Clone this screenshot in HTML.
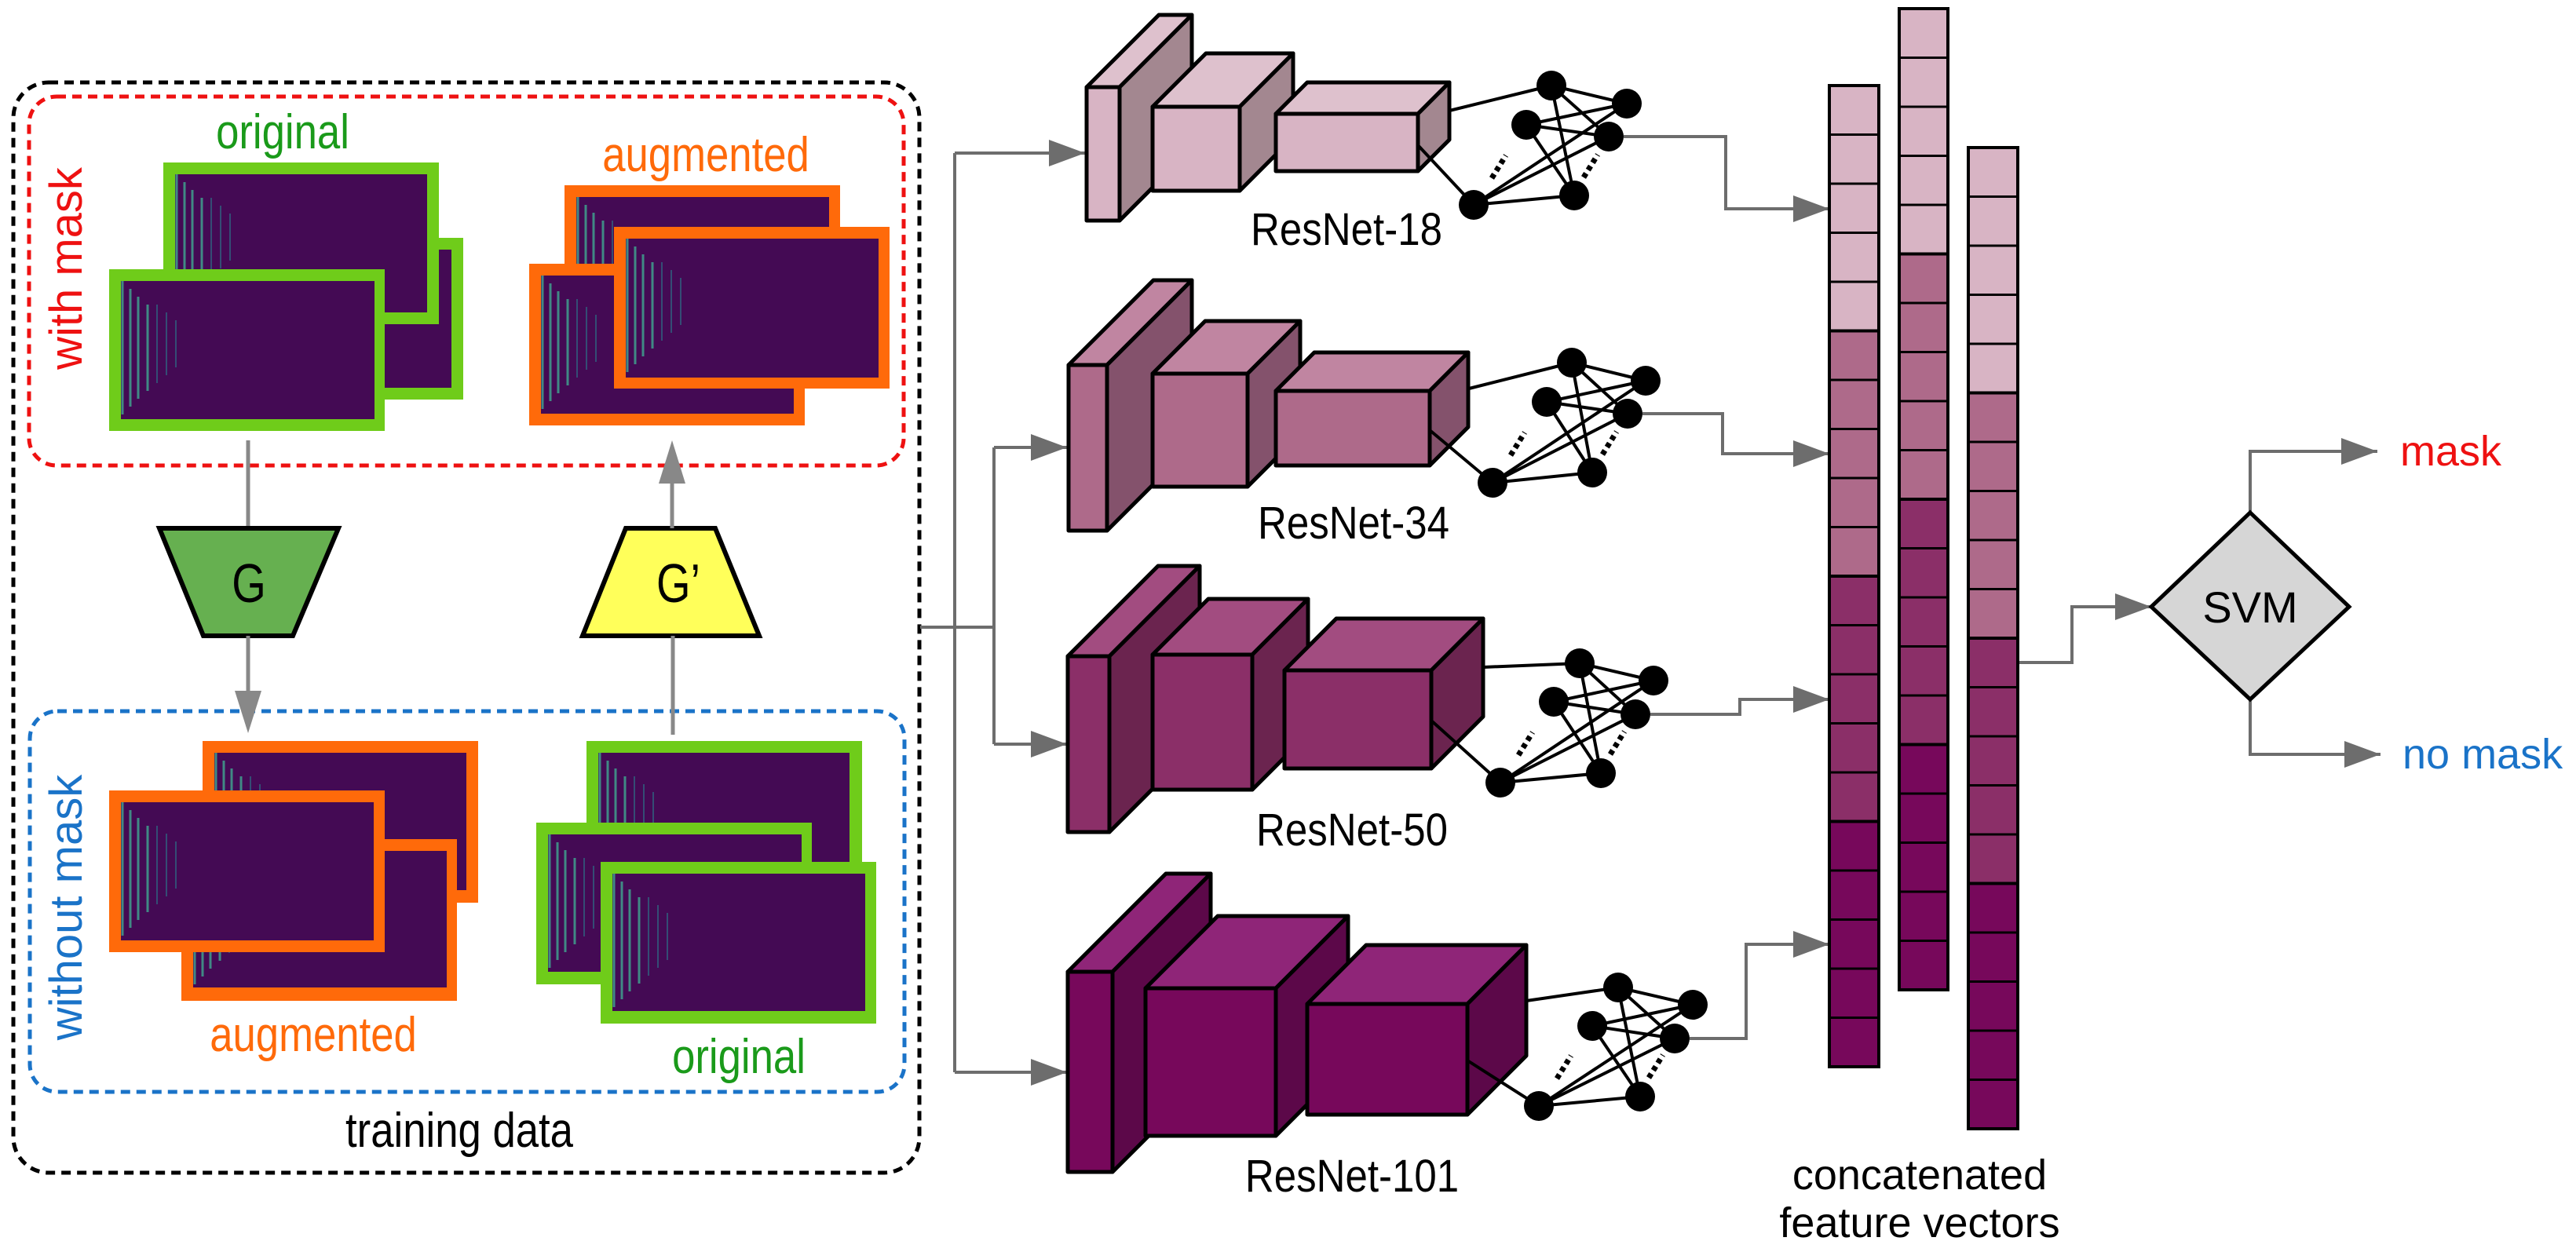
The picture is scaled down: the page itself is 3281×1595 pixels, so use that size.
<!DOCTYPE html>
<html><head><meta charset="utf-8"><style>
html,body{margin:0;padding:0;background:#fff;}
svg{display:block;}
text{font-family:"Liberation Sans",sans-serif;}
</style></head><body>
<svg width="3281" height="1595" viewBox="0 0 3281 1595" xmlns="http://www.w3.org/2000/svg">
<defs>
<marker id="ar" markerUnits="userSpaceOnUse" markerWidth="50" markerHeight="40" refX="46" refY="17" orient="auto">
<path d="M0,0 L46,17 L0,34 Z" fill="#6d6d6d"/>
</marker>
<g id="spec">
<rect width="341" height="196" fill="#440a54"/>
<g stroke="#3fbf9a" stroke-width="3" opacity="0.7">
<line x1="12" y1="10" x2="12" y2="180"/><line x1="22" y1="20" x2="22" y2="170"/><line x1="32" y1="30" x2="32" y2="160"/><line x1="44" y1="40" x2="44" y2="150"/>
</g>
<g stroke="#2a7a8c" stroke-width="2" opacity="0.6">
<line x1="56" y1="40" x2="56" y2="140"/><line x1="68" y1="50" x2="68" y2="130"/><line x1="80" y1="60" x2="80" y2="120"/>
</g>
</g>
</defs>

<rect x="17" y="105" width="1154" height="1389" rx="45" fill="none" stroke="#000" stroke-width="5" stroke-dasharray="12,8"/>
<rect x="37" y="123" width="1114" height="470" rx="35" fill="none" stroke="#ee1111" stroke-width="5" stroke-dasharray="12,8"/>
<rect x="38" y="906" width="1114" height="485" rx="35" fill="none" stroke="#1a73c8" stroke-width="5" stroke-dasharray="12,8"/>

<g stroke="#6fcc1a" stroke-width="10">
<use href="#spec" x="244" y="308"/><rect x="249" y="313" width="331" height="186" fill="none"/>
<use href="#spec" x="213" y="212"/><rect x="218" y="217" width="331" height="186" fill="none"/>
<use href="#spec" x="144" y="348"/><rect x="149" y="353" width="333" height="186" fill="none"/>
</g>
<g stroke="#ff6a0a" stroke-width="10">
<use href="#spec" x="724" y="241"/><rect x="729" y="246" width="332" height="186" fill="none"/>
<use href="#spec" x="679" y="341"/><rect x="684" y="346" width="332" height="186" fill="none"/>
<use href="#spec" x="787" y="294"/><rect x="792" y="299" width="332" height="187" fill="none"/>
</g>
<g stroke="#ff6a0a" stroke-width="10">
<use href="#spec" x="263" y="949"/><rect x="268" y="954" width="331" height="185" fill="none"/>
<use href="#spec" x="236" y="1074"/><rect x="241" y="1079" width="333" height="184" fill="none"/>
<use href="#spec" x="144" y="1012"/><rect x="149" y="1017" width="332" height="186" fill="none"/>
</g>
<g stroke="#6fcc1a" stroke-width="10">
<use href="#spec" x="752" y="949"/><rect x="757" y="954" width="330" height="186" fill="none"/>
<use href="#spec" x="688" y="1053"/><rect x="693" y="1058" width="333" height="185" fill="none"/>
<use href="#spec" x="770" y="1103"/><rect x="775" y="1108" width="332" height="185" fill="none"/>
</g>

<text transform="translate(360,189) scale(0.85,1)" font-size="62" fill="#1a9a1a" text-anchor="middle">original</text>
<text transform="translate(899,218) scale(0.85,1)" font-size="62" fill="#ff6a0a" text-anchor="middle">augmented</text>
<text transform="translate(399,1339) scale(0.85,1)" font-size="62" fill="#ff6a0a" text-anchor="middle">augmented</text>
<text transform="translate(941,1367) scale(0.85,1)" font-size="62" fill="#1a9a1a" text-anchor="middle">original</text>
<text transform="translate(585,1461) scale(0.85,1)" font-size="62" fill="#000" text-anchor="middle">training data</text>
<text transform="translate(104,342) rotate(-90)" font-size="58" fill="#ee1111" text-anchor="middle">with mask</text>
<text transform="translate(104,1156) rotate(-90)" font-size="58" fill="#1a73c8" text-anchor="middle">without mask</text>

<line x1="316" y1="561" x2="316" y2="673" stroke="#888" stroke-width="5"/>
<polygon points="203,673 431,673 373,810 259,810" fill="#66b050" stroke="#000" stroke-width="6"/>
<text transform="translate(317,767) scale(0.8,1)" font-size="70" text-anchor="middle" fill="#000">G</text>
<line x1="316" y1="810" x2="316" y2="885" stroke="#888" stroke-width="5"/>
<path d="M299,880 L333,880 L316,934 Z" fill="#888"/>
<polygon points="797,673 911,673 967,810 742,810" fill="#ffff5a" stroke="#000" stroke-width="6"/>
<text transform="translate(864,767) scale(0.8,1)" font-size="70" text-anchor="middle" fill="#000">G’</text>
<line x1="857" y1="936" x2="857" y2="810" stroke="#888" stroke-width="5"/>
<line x1="856" y1="673" x2="856" y2="610" stroke="#888" stroke-width="5"/>
<path d="M839,616 L873,616 L856,561 Z" fill="#888"/>

<g stroke="#6d6d6d" stroke-width="4" fill="none">
<polyline points="1172,799 1266,799"/>
<polyline points="1216,195 1216,1366"/>
<polyline points="1266,570 1266,948"/>
<polyline points="1216,195 1382,195" marker-end="url(#ar)"/>
<polyline points="1266,570 1359,570" marker-end="url(#ar)"/>
<polyline points="1266,948 1359,948" marker-end="url(#ar)"/>
<polyline points="1216,1366 1359,1366" marker-end="url(#ar)"/>
</g>

<g stroke="#000" stroke-width="5" stroke-linejoin="round">
<g>
<rect x="1384" y="111" width="42" height="170" fill="#d8b4c4"/>
<polygon points="1384,111 1476,19 1518,19 1426,111" fill="#dec1cd"/>
<polygon points="1426,111 1518,19 1518,189 1426,281" fill="#a38790"/>
<rect x="1468" y="136" width="111" height="107" fill="#d8b4c4"/>
<polygon points="1468,136 1536,68 1647,68 1579,136" fill="#dec1cd"/>
<polygon points="1579,136 1647,68 1647,175 1579,243" fill="#a38790"/>
<rect x="1625" y="145" width="181" height="73" fill="#d8b4c4"/>
<polygon points="1625,145 1665,105 1846,105 1806,145" fill="#dec1cd"/>
<polygon points="1806,145 1846,105 1846,178 1806,218" fill="#a38790"/>
</g>
<g>
<rect x="1361" y="465" width="49" height="211" fill="#ae6a8a"/>
<polygon points="1361,465 1469,357 1518,357 1410,465" fill="#c085a1"/>
<polygon points="1410,465 1518,357 1518,568 1410,676" fill="#84526c"/>
<rect x="1468" y="476" width="121" height="144" fill="#ae6a8a"/>
<polygon points="1468,476 1535,409 1656,409 1589,476" fill="#c085a1"/>
<polygon points="1589,476 1656,409 1656,553 1589,620" fill="#84526c"/>
<rect x="1625" y="498" width="196" height="95" fill="#ae6a8a"/>
<polygon points="1625,498 1674,449 1870,449 1821,498" fill="#c085a1"/>
<polygon points="1821,498 1870,449 1870,544 1821,593" fill="#84526c"/>
</g>
<g>
<rect x="1360" y="836" width="53" height="224" fill="#8b2f68"/>
<polygon points="1360,836 1475,721 1528,721 1413,836" fill="#a24c80"/>
<polygon points="1413,836 1528,721 1528,945 1413,1060" fill="#6b244f"/>
<rect x="1468" y="834" width="127" height="172" fill="#8b2f68"/>
<polygon points="1468,834 1539,763 1666,763 1595,834" fill="#a24c80"/>
<polygon points="1595,834 1666,763 1666,935 1595,1006" fill="#6b244f"/>
<rect x="1636" y="854" width="187" height="125" fill="#8b2f68"/>
<polygon points="1636,854 1702,788 1889,788 1823,854" fill="#a24c80"/>
<polygon points="1823,854 1889,788 1889,913 1823,979" fill="#6b244f"/>
</g>
<g>
<rect x="1360" y="1238" width="57" height="255" fill="#77085b"/>
<polygon points="1360,1238 1485,1113 1542,1113 1417,1238" fill="#8f2578"/>
<polygon points="1417,1238 1542,1113 1542,1368 1417,1493" fill="#5c0849"/>
<rect x="1459" y="1259" width="166" height="188" fill="#77085b"/>
<polygon points="1459,1259 1551,1167 1717,1167 1625,1259" fill="#8f2578"/>
<polygon points="1625,1259 1717,1167 1717,1355 1625,1447" fill="#5c0849"/>
<rect x="1665" y="1279" width="204" height="141" fill="#77085b"/>
<polygon points="1665,1279 1740,1204 1944,1204 1869,1279" fill="#8f2578"/>
<polygon points="1869,1279 1944,1204 1944,1345 1869,1420" fill="#5c0849"/>
</g>
</g>

<g stroke="#000" stroke-width="4">
<line x1="1846" y1="141" x2="1976" y2="109"/><line x1="1806" y1="185" x2="1877" y2="261"/>
<line x1="1976" y1="109" x2="2072" y2="132"/><line x1="1976" y1="109" x2="2049" y2="174"/><line x1="1976" y1="109" x2="2005" y2="249"/>
<line x1="1944" y1="159" x2="2072" y2="132"/><line x1="1944" y1="159" x2="2049" y2="174"/><line x1="1944" y1="159" x2="2005" y2="249"/>
<line x1="1877" y1="261" x2="2072" y2="132"/><line x1="1877" y1="261" x2="2049" y2="174"/><line x1="1877" y1="261" x2="2005" y2="249"/>
<line x1="1871" y1="495" x2="2002" y2="462"/><line x1="1821" y1="548" x2="1901" y2="615"/>
<line x1="2002" y1="462" x2="2096" y2="485"/><line x1="2002" y1="462" x2="2073" y2="527"/><line x1="2002" y1="462" x2="2028" y2="602"/>
<line x1="1970" y1="512" x2="2096" y2="485"/><line x1="1970" y1="512" x2="2073" y2="527"/><line x1="1970" y1="512" x2="2028" y2="602"/>
<line x1="1901" y1="615" x2="2096" y2="485"/><line x1="1901" y1="615" x2="2073" y2="527"/><line x1="1901" y1="615" x2="2028" y2="602"/>
<line x1="1889" y1="850" x2="2012" y2="845"/><line x1="1823" y1="918" x2="1911" y2="997"/>
<line x1="2012" y1="845" x2="2106" y2="867"/><line x1="2012" y1="845" x2="2083" y2="910"/><line x1="2012" y1="845" x2="2039" y2="985"/>
<line x1="1979" y1="894" x2="2106" y2="867"/><line x1="1979" y1="894" x2="2083" y2="910"/><line x1="1979" y1="894" x2="2039" y2="985"/>
<line x1="1911" y1="997" x2="2106" y2="867"/><line x1="1911" y1="997" x2="2083" y2="910"/><line x1="1911" y1="997" x2="2039" y2="985"/>
<line x1="1944" y1="1275" x2="2061" y2="1258"/><line x1="1869" y1="1351" x2="1960" y2="1409"/>
<line x1="2061" y1="1258" x2="2156" y2="1280"/><line x1="2061" y1="1258" x2="2133" y2="1323"/><line x1="2061" y1="1258" x2="2089" y2="1397"/>
<line x1="2028" y1="1307" x2="2156" y2="1280"/><line x1="2028" y1="1307" x2="2133" y2="1323"/><line x1="2028" y1="1307" x2="2089" y2="1397"/>
<line x1="1960" y1="1409" x2="2156" y2="1280"/><line x1="1960" y1="1409" x2="2133" y2="1323"/><line x1="1960" y1="1409" x2="2089" y2="1397"/>
</g>
<g stroke="#000" stroke-width="7" stroke-dasharray="6,5">
<line x1="1900" y1="227" x2="1918" y2="198"/><line x1="2017" y1="226" x2="2035" y2="197"/>
<line x1="1924" y1="580" x2="1942" y2="551"/><line x1="2041" y1="579" x2="2059" y2="550"/>
<line x1="1934" y1="962" x2="1952" y2="933"/><line x1="2051" y1="961" x2="2069" y2="932"/>
<line x1="1983" y1="1374" x2="2001" y2="1345"/><line x1="2100" y1="1373" x2="2118" y2="1344"/>
</g>
<g fill="#000">
<circle cx="1976" cy="109" r="19"/><circle cx="1944" cy="159" r="19"/><circle cx="1877" cy="261" r="19"/><circle cx="2072" cy="132" r="19"/><circle cx="2049" cy="174" r="19"/><circle cx="2005" cy="249" r="19"/>
<circle cx="2002" cy="462" r="19"/><circle cx="1970" cy="512" r="19"/><circle cx="1901" cy="615" r="19"/><circle cx="2096" cy="485" r="19"/><circle cx="2073" cy="527" r="19"/><circle cx="2028" cy="602" r="19"/>
<circle cx="2012" cy="845" r="19"/><circle cx="1979" cy="894" r="19"/><circle cx="1911" cy="997" r="19"/><circle cx="2106" cy="867" r="19"/><circle cx="2083" cy="910" r="19"/><circle cx="2039" cy="985" r="19"/>
<circle cx="2061" cy="1258" r="19"/><circle cx="2028" cy="1307" r="19"/><circle cx="1960" cy="1409" r="19"/><circle cx="2156" cy="1280" r="19"/><circle cx="2133" cy="1323" r="19"/><circle cx="2089" cy="1397" r="19"/>
</g>

<text transform="translate(1715,312) scale(0.88,1)" font-size="58" text-anchor="middle">ResNet-18</text>
<text transform="translate(1724,686) scale(0.88,1)" font-size="58" text-anchor="middle">ResNet-34</text>
<text transform="translate(1722,1077) scale(0.88,1)" font-size="58" text-anchor="middle">ResNet-50</text>
<text transform="translate(1722,1518) scale(0.88,1)" font-size="58" text-anchor="middle">ResNet-101</text>

<g stroke="#6d6d6d" stroke-width="4" fill="none">
<polyline points="2068,174 2198,174 2198,266 2330,266" marker-end="url(#ar)"/>
<polyline points="2092,527 2194,527 2194,578 2330,578" marker-end="url(#ar)"/>
<polyline points="2102,910 2216,910 2216,891 2330,891" marker-end="url(#ar)"/>
<polyline points="2152,1323 2224,1323 2224,1203 2330,1203" marker-end="url(#ar)"/>
<polyline points="2570,844 2639,844 2639,773 2740,773" marker-end="url(#ar)"/>
<polyline points="2866,653 2866,575 3028,575" marker-end="url(#ar)"/>
<polyline points="2866,891 2866,961 3032,961" marker-end="url(#ar)"/>
</g>

<g stroke="#000" stroke-width="4">
<g>
<rect x="2330" y="109" width="63" height="312.5" fill="#d8b4c4"/>
<rect x="2330" y="421.5" width="63" height="312.5" fill="#ae6a8a"/>
<rect x="2330" y="734" width="63" height="312.5" fill="#8b2f68"/>
<rect x="2330" y="1046.5" width="63" height="312.5" fill="#77085b"/>
</g>
<g>
<rect x="2419" y="11" width="62" height="312.5" fill="#d8b4c4"/>
<rect x="2419" y="323.5" width="62" height="312.5" fill="#ae6a8a"/>
<rect x="2419" y="636" width="62" height="312.5" fill="#8b2f68"/>
<rect x="2419" y="948.5" width="62" height="312.5" fill="#77085b"/>
</g>
<g>
<rect x="2507" y="188" width="63" height="312.5" fill="#d8b4c4"/>
<rect x="2507" y="500.5" width="63" height="312.5" fill="#ae6a8a"/>
<rect x="2507" y="813" width="63" height="312.5" fill="#8b2f68"/>
<rect x="2507" y="1125.5" width="63" height="312.5" fill="#77085b"/>
</g>
<path fill="none" stroke-width="3" d="
M2330,171.5h63M2330,234h63M2330,296.5h63M2330,359h63M2330,484h63M2330,546.5h63M2330,609h63M2330,671.5h63M2330,796.5h63M2330,859h63M2330,921.5h63M2330,984h63M2330,1109h63M2330,1171.5h63M2330,1234h63M2330,1296.5h63
M2419,73.5h62M2419,136h62M2419,198.5h62M2419,261h62M2419,386h62M2419,448.5h62M2419,511h62M2419,573.5h62M2419,698.5h62M2419,761h62M2419,823.5h62M2419,886h62M2419,1011h62M2419,1073.5h62M2419,1136h62M2419,1198.5h62
M2507,250.5h63M2507,313h63M2507,375.5h63M2507,438h63M2507,563h63M2507,625.5h63M2507,688h63M2507,750.5h63M2507,875.5h63M2507,938h63M2507,1000.5h63M2507,1063h63M2507,1188h63M2507,1250.5h63M2507,1313h63M2507,1375.5h63"/>
</g>
<text x="2445" y="1515" font-size="54" text-anchor="middle">concatenated</text>
<text x="2445" y="1576" font-size="54" text-anchor="middle">feature vectors</text>

<polygon points="2866,653 2992,773 2866,891 2740,773" fill="#d6d6d6" stroke="#000" stroke-width="5"/>
<text x="2866" y="793" font-size="56" text-anchor="middle">SVM</text>
<text x="3057" y="593" font-size="54" fill="#ee1111">mask</text>
<text x="3060" y="979" font-size="54" fill="#1a73c8">no mask</text>
</svg>
</body></html>
